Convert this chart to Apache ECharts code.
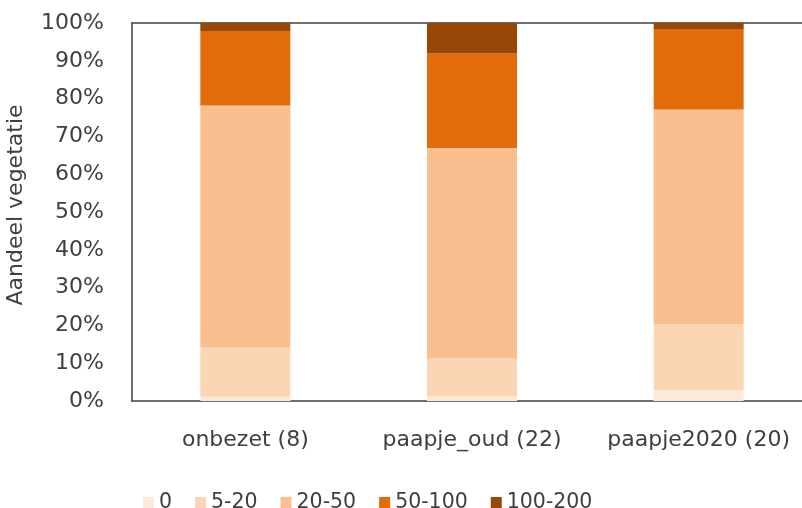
<!DOCTYPE html>
<html>
<head>
<meta charset="utf-8">
<script src="https://cdn.jsdelivr.net/npm/echarts@6/dist/echarts.min.js"></script>
<style>
  html, body { margin: 0; padding: 0; background: #fff; }
  #chart { width: 802px; height: 508px; }
</style>
</head>
<body>
<div id="chart"></div>
<script>
// Share of vegetation per cover class (%), per territory group
const categories = ['onbezet (8)', 'paapje_oud (22)', 'paapje2020 (20)'];
const classNames = ['0', '5-20', '20-50', '50-100', '100-200'];
const share0      = [1.1, 1.2, 2.9];
const share5_20   = [13.2, 10.2, 17.5];
const share20_50  = [63.9, 55.5, 56.7];
const share50_100 = [19.7, 25.0, 21.3];
const share100_200 = [2.1, 8.1, 1.6];
const yTicks = [0, 10, 20, 30, 40, 50, 60, 70, 80, 90, 100];

const seriesValues = [share0, share5_20, share20_50, share50_100, share100_200];
const colors = ['#FDE9D9', '#FCD5B4', '#FABF8F', '#E26B0A', '#974706'];

const FONT = 'DejaVu Sans';
const TEXT = '#404040';
const SIZE = 22;
const frameLine = { show: true, lineStyle: { color: '#404040', width: 1.5 } };

const chart = echarts.init(document.getElementById('chart'), null, { renderer: 'canvas' });

chart.setOption({
  animation: false,
  textStyle: { fontFamily: FONT, color: TEXT },
  grid: {
    left: 132, top: 23, right: -10, bottom: 107,
    show: false,
    containLabel: false,
    outerBoundsMode: 'none'
  },
  legend: {
    data: classNames,
    left: 138, top: 487,
    icon: 'rect', itemWidth: 11, itemHeight: 11, itemGap: 23,
    textStyle: { fontFamily: FONT, fontSize: 20.5, color: TEXT }
  },
  xAxis: [{
    type: 'category',
    data: categories,
    axisLine: frameLine,
    axisTick: { show: false },
    axisLabel: { fontFamily: FONT, fontSize: SIZE, color: TEXT, margin: 28, interval: 0, hideOverlap: false }
  }, {
    // top edge of the plot frame
    type: 'category',
    position: 'top',
    data: categories,
    axisLine: frameLine,
    axisTick: { show: false },
    axisLabel: { show: false }
  }],
  yAxis: {
    type: 'value',
    min: yTicks[0], max: yTicks[yTicks.length - 1], interval: 10,
    name: 'Aandeel vegetatie',
    nameLocation: 'middle',
    nameGap: 105,
    nameTextStyle: { fontFamily: FONT, fontSize: SIZE, color: TEXT, padding: [0, 0, 0, 14] },
    axisLine: frameLine,
    axisTick: { show: false },
    splitLine: { show: false },
    axisLabel: { fontFamily: FONT, fontSize: SIZE, color: TEXT, margin: 28, formatter: '{value}%' }
  },
  series: classNames.map((name, i) => ({
    name: name,
    type: 'bar',
    stack: 'total',
    barWidth: 90,
    itemStyle: { color: colors[i] },
    data: seriesValues[i]
  }))
});
</script>
</body>
</html>
